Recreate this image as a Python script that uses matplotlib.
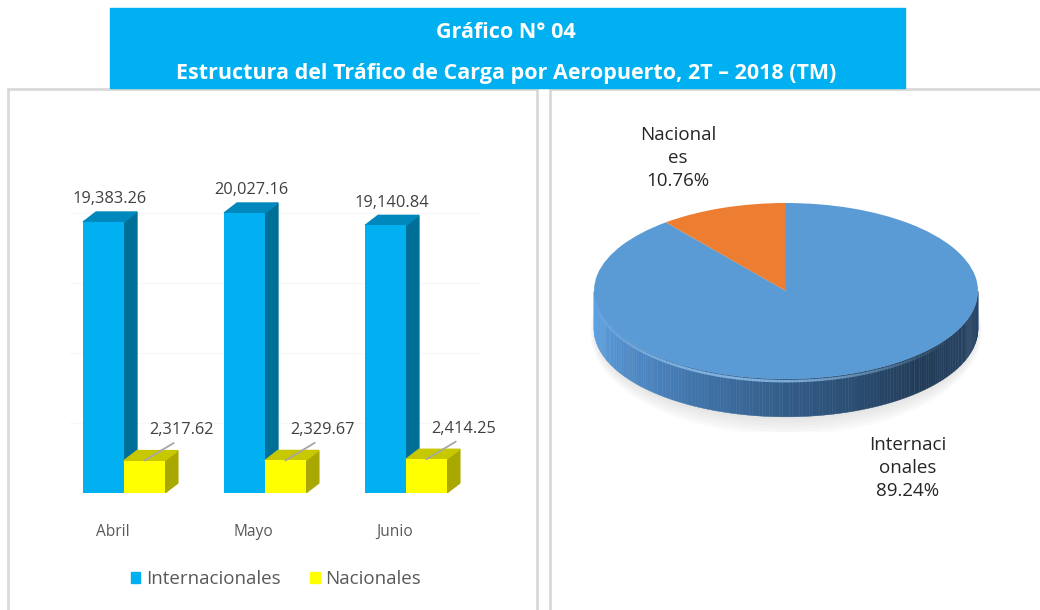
import numpy as np
import matplotlib
matplotlib.use("Agg")
import matplotlib.pyplot as plt
from matplotlib.patches import Rectangle, Polygon, Patch, Ellipse
from matplotlib.colors import LinearSegmentedColormap, to_rgba
from matplotlib.collections import LineCollection

plt.rcParams['font.family'] = ['Open Sans', 'DejaVu Sans']

# datos (TM)
meses = ['Abril', 'Mayo', 'Junio']
internacionales = [19383.26, 20027.16, 19140.84]
nacionales = [2317.62, 2329.67, 2414.25]
series = ['Internacionales', 'Nacionales']
pie_labels = ['Internaci\nonales', 'Nacional\nes']

titulo1 = 'Gráfico N° 04'
titulo2 = 'Estructura del Tráfico de Carga por Aeropuerto, 2T – 2018 (TM)'

W, H = 1040, 610
fig = plt.figure(figsize=(W / 100, H / 100), dpi=100)


def px_axes(l, t, r, b):
    return fig.add_axes([l / W, 1 - b / H, (r - l) / W, (b - t) / H])


# marcos y banner
for x0, x1 in [(8, 537), (550, 1045)]:
    fig.patches.append(Rectangle((x0 / W, 1 - 615 / H), (x1 - x0) / W, (615 - 89) / H,
                                 transform=fig.transFigure, fill=False,
                                 edgecolor='#D9D9D9', lw=2))
fig.patches.append(Rectangle((110 / W, 1 - 88 / H), 795 / W, 80 / H,
                             transform=fig.transFigure, color='#00B0F0', zorder=3))
fig.text(506 / W, 1 - 33 / H, titulo1, color='white', fontweight='bold',
         fontsize=15.5, ha='center', va='center', zorder=4)
fig.text(506 / W, 1 - 73 / H, titulo2, color='white', fontweight='bold',
         fontsize=15.5, ha='center', va='center', zorder=4)

# ---------- barras 3D ----------
ax = px_axes(70, 180, 480, 493)
ax.set_xlim(-0.383, 2.525)
ax.set_ylim(0, 22387)
idx = np.arange(len(meses))
w = 0.29
dx = 0.092     # profundidad (unidades x)
dy = 715       # profundidad (unidades y)

b1 = ax.bar(idx - w / 2, internacionales, width=w, color='#00B0F0', zorder=2)
b2 = ax.bar(idx + w / 2, nacionales, width=w, color='#FFFF00', zorder=4)


def caras(bars, side_c, top_c, z):
    for r in bars:
        x0, x1, h = r.get_x(), r.get_x() + r.get_width(), r.get_height()
        ax.add_patch(Polygon([(x1, 0), (x1 + dx, dy), (x1 + dx, h + dy), (x1, h)],
                             closed=True, color=side_c, zorder=z))
        ax.add_patch(Polygon([(x0, h), (x0 + dx, h + dy), (x1 + dx, h + dy), (x1, h)],
                             closed=True, color=top_c, zorder=z))


caras(b1, '#006F98', '#0088BC', 1)
caras(b2, '#A8A800', '#C8C800', 3)

for r, v in zip(b1, internacionales):
    ax.annotate(f'{v:,.2f}', (r.get_x() + r.get_width() / 2 + dx / 2, v + dy),
                xytext=(0, 9), textcoords='offset points', ha='center', va='center',
                fontsize=11.8, color='#404040', zorder=6)
for r, v in zip(b2, nacionales):
    ax.annotate(f'{v:,.2f}', (r.get_x() + r.get_width() / 2, v),
                xytext=(27, 22), textcoords='offset points', ha='center', va='center',
                fontsize=11.8, color='#404040', zorder=6,
                arrowprops=dict(arrowstyle='-', color='#A6A6A6', lw=1.3,
                                relpos=(0.5, 0), shrinkA=3, shrinkB=0))

ax.set_yticks(np.arange(5000, 22000, 5000))
ax.yaxis.grid(True, color='#F7F7F7', lw=0.8)
ax.set_axisbelow(True)
ax.tick_params(left=False, labelleft=False, bottom=False)
ax.set_xticks(idx - 0.08)
ax.set_xticklabels(meses, fontsize=11.2, color='#595959')
ax.tick_params(axis='x', pad=19)
for s in ax.spines.values():
    s.set_visible(False)

fig.legend(handles=[Patch(color='#00B0F0', label=series[0]),
                    Patch(color='#FFFF00', label=series[1])],
           loc='center', bbox_to_anchor=(276 / W, 1 - 579 / H), ncol=2, frameon=False,
           fontsize=13.5, labelcolor='#595959', handlelength=0.5, handleheight=0.5,
           handletextpad=0.3, columnspacing=1.6)

# ---------- pie 3D ----------
totales = [sum(internacionales), sum(nacionales)]
pct = [100 * t / sum(totales) for t in totales]

pax = px_axes(584.4, 198.6, 987.6, 431.8)
t = 0.43  # grosor en unidades y

# sombra
for k in range(6):
    pax.add_patch(Ellipse((0, -t - 0.03), 1.98 + 0.012 * k, 2.0 + 0.07 * k,
                          color='#9A9A9A', alpha=0.045, lw=0, zorder=0))

cmap = LinearSegmentedColormap.from_list('lado', ['#5FA6E8', '#4A83BE', '#325C88', '#213B57', '#27476A'])
ang = np.linspace(np.pi, 2 * np.pi, 181)
for i in range(len(ang) - 1):
    a0, a1 = ang[i], ang[i + 1]
    pts = [(np.cos(a0), np.sin(a0)), (np.cos(a1), np.sin(a1)),
           (np.cos(a1), np.sin(a1) - t), (np.cos(a0), np.sin(a0) - t)]
    pax.add_patch(Polygon(pts, closed=True, color=cmap(i / (len(ang) - 2)), lw=0.3, zorder=1))

wedges, _ = pax.pie(totales, colors=['#5B9BD5', '#ED7D31'], startangle=90,
                    counterclock=False, radius=1, frame=False,
                    wedgeprops=dict(lw=0))
for wd in wedges:
    wd.set_zorder(2)

# brillo del borde (se desvanece en los extremos)
aa = np.linspace(np.pi * 1.0, np.pi * 1.85, 120)
xs, ys = np.cos(aa), np.sin(aa) - 0.025
segs = [[(xs[i], ys[i]), (xs[i + 1], ys[i + 1])] for i in range(len(aa) - 1)]
alph = np.sin(np.linspace(0, np.pi, len(segs))) ** 1.5 * 0.75
cols = [to_rgba('#9BCDF8', a) for a in alph]
pax.add_collection(LineCollection(segs, colors=cols, lw=1.8, zorder=3))

pax.set_aspect('auto')
pax.set_xlim(-1.05, 1.05)
pax.set_ylim(-1.6, 1.05)
pax.axis('off')

fig.text(678 / W, 1 - 158 / H, f'{pie_labels[1]}\n{pct[1]:.2f}%', ha='center', va='center',
         fontsize=13.5, color='#262626', linespacing=1.35)
fig.text(908 / W, 1 - 468 / H, f'{pie_labels[0]}\n{pct[0]:.2f}%', ha='center', va='center',
         fontsize=13.5, color='#262626', linespacing=1.35)

fig.savefig('out.png', dpi=100)
